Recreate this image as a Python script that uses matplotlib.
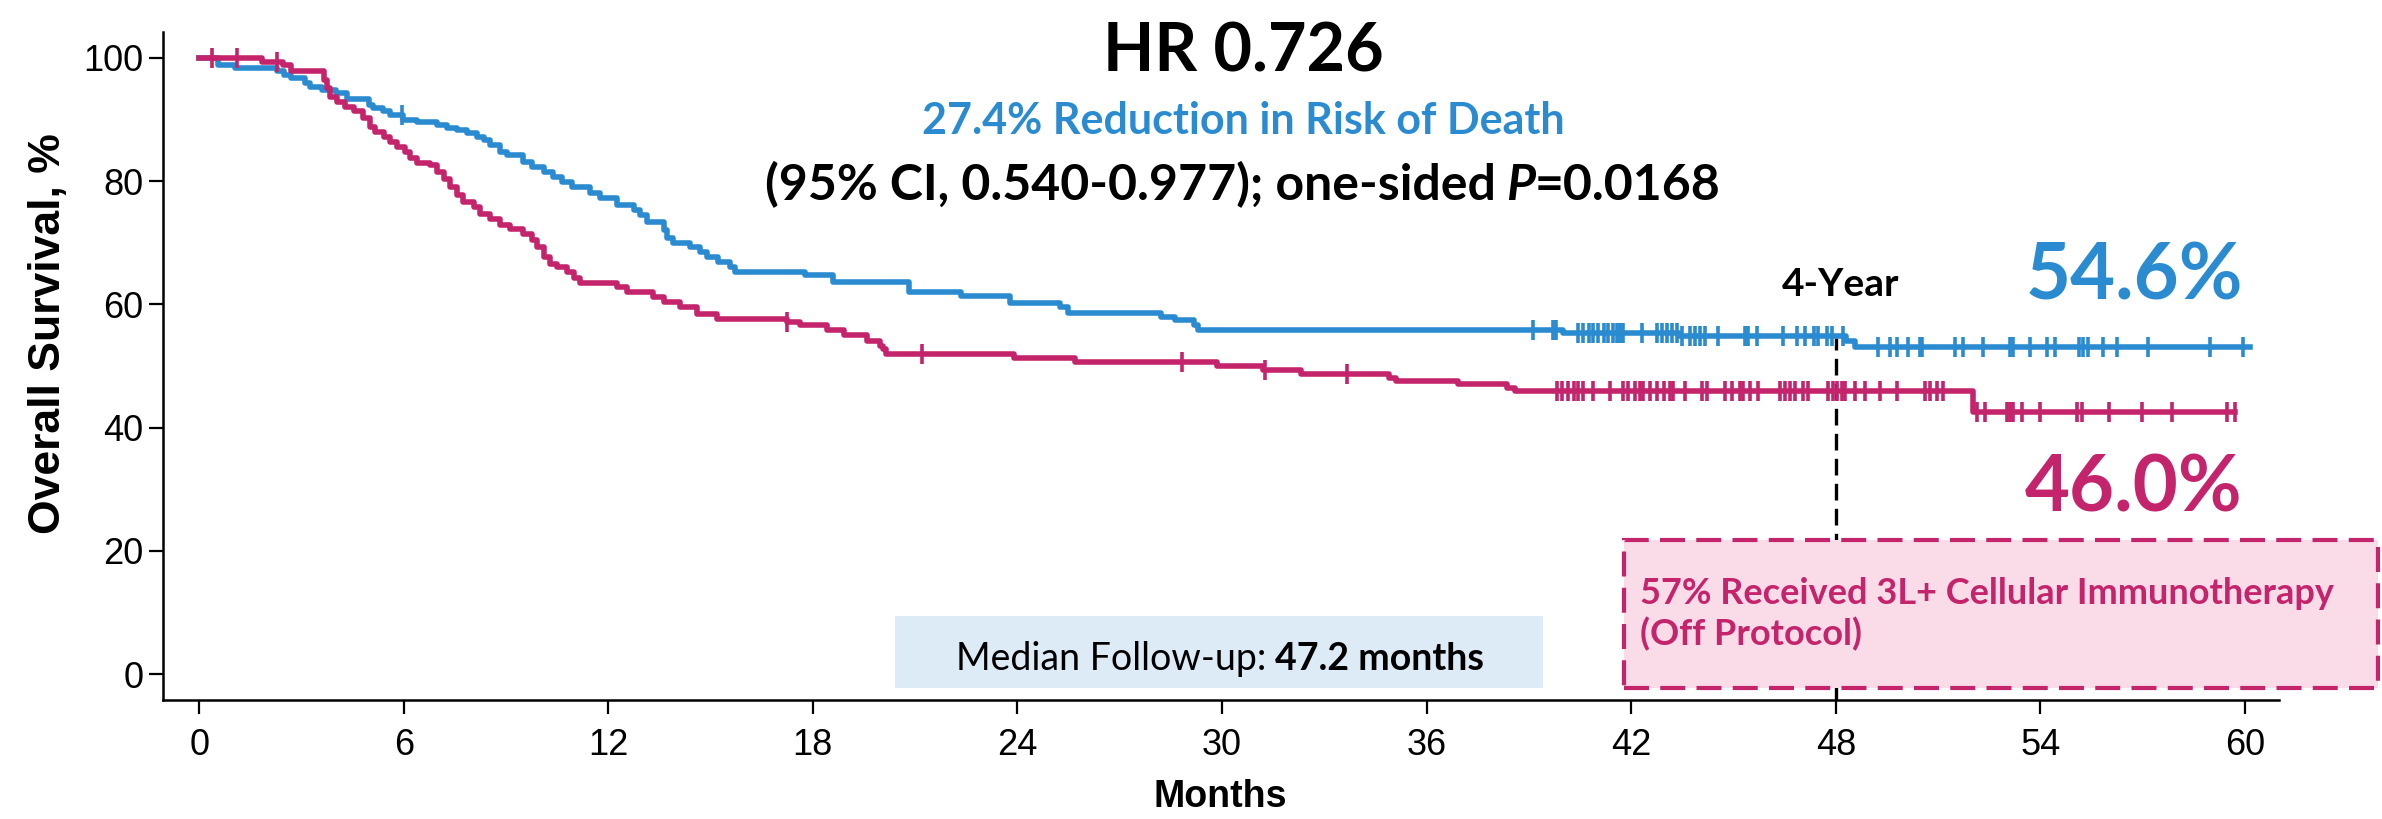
import numpy as np
import matplotlib
matplotlib.use("Agg")
import matplotlib.pyplot as plt
from matplotlib.patches import Rectangle

W, H = 2382, 819

# Kaplan-Meier steps: time (months) and survival (%) after each step
blue_t = [0, 0.55, 1.06, 2.28, 2.5, 2.7, 3.11, 3.26, 3.6, 4.0, 4.33, 4.97, 5.11, 5.4, 5.6, 5.99,
          6.38, 6.97, 7.26, 7.55, 7.85, 8.14, 8.34, 8.53, 8.83, 9.02, 9.5, 9.76, 10.1, 10.39, 10.64,
          10.93, 11.47, 11.76, 12.25, 12.74, 12.93, 13.13, 13.62, 13.71, 13.91, 14.4, 14.69, 14.89,
          15.23, 15.57, 15.72, 17.77, 18.6, 20.81, 22.33, 23.79, 25.24, 25.47, 28.22, 28.61, 29.17,
          29.3, 40.0, 43.4, 48.3, 48.55]
blue_s = [100, 98.9, 98.3, 97.8, 97.2, 96.7, 95.9, 95.3, 94.8, 94.3, 93.4, 92.4, 91.8, 91.3, 90.7, 89.9,
          89.6, 89.1, 88.6, 88.3, 87.75, 87.2, 86.7, 85.9, 84.8, 84.2, 83.1, 82.3, 81.5, 80.7, 79.9,
          79.1, 78.0, 77.2, 76.1, 75.3, 74.5, 73.4, 72.0, 70.7, 69.9, 69.3, 68.5, 67.7,
          66.9, 66.1, 65.3, 64.7, 63.6, 62.0, 61.3, 60.2, 59.5, 58.6, 57.9, 57.4, 56.6,
          55.8, 55.3, 54.8, 54.0, 53.1]
blue_end = 60.15
blue_cens = [5.94, 39.11, 39.72, 39.8, 40.43, 40.6, 40.75, 40.89, 41.04, 41.19, 41.33, 41.48, 41.58,
             41.68, 41.77, 42.31, 42.75, 42.9, 43.04, 43.19, 43.34, 43.48, 43.73, 43.87, 44.02, 44.17,
             44.56, 45.34, 45.44, 45.68, 46.46, 46.86, 47.1, 47.35, 47.49, 47.74, 47.88, 48.22, 49.25,
             49.59, 49.79, 50.13, 50.47, 50.52, 51.5, 51.74, 52.33, 53.11, 53.21, 53.7, 54.19, 54.43,
             55.12, 55.26, 55.41, 55.85, 56.24, 57.17, 58.98, 59.95]

red_t = [0, 1.84, 2.47, 2.7, 3.65, 3.75, 3.84, 4.04, 4.28, 4.53, 4.82, 5.01, 5.16, 5.41, 5.6, 5.8,
         6.04, 6.19, 6.38, 6.77, 6.97, 7.17, 7.36, 7.56, 7.75, 8.05, 8.24, 8.53, 8.83, 9.12, 9.51,
         9.76, 9.9, 10.1, 10.29, 10.49, 10.78, 10.98, 11.17, 12.25, 12.54, 13.32, 13.62, 14.1, 14.59,
         15.18, 17.23, 17.62, 18.4, 18.9, 19.58, 19.97, 20.05, 20.15, 23.9, 25.7, 29.85, 31.19, 32.32,
         34.9, 35.1, 36.92, 38.35, 38.6, 52.04]
red_s = [100, 99.4, 98.9, 97.8, 96.4, 95.1, 93.7, 92.9, 92.1, 91.3, 90.2, 88.8, 88.0, 87.2, 86.4, 85.6,
         84.8, 83.7, 82.9, 82.6, 81.5, 80.4, 79.1, 77.7, 76.6, 75.8, 74.7, 73.9, 72.8, 72.3, 71.5,
         70.4, 69.3, 67.7, 66.6, 66.1, 65.3, 64.2, 63.4, 62.8, 62.0, 61.2, 60.4, 59.6, 58.5,
         57.7, 57.1, 56.6, 55.8, 55.0, 54.1, 53.3, 52.8, 52.0, 51.3, 50.6, 50.0, 49.4, 48.7,
         48.1, 47.6, 47.0, 46.5, 46.0, 42.5]
red_end = 59.7
red_cens = [0.37, 1.1, 2.28, 17.23, 21.2, 28.84, 31.25, 33.66, 39.82, 39.96, 40.16, 40.31, 40.45,
            40.6, 40.89, 41.38, 41.77, 41.92, 42.12, 42.26, 42.36, 42.56, 42.75, 42.95, 43.14, 43.24,
            43.58, 44.07, 44.22, 44.75, 44.95, 45.19, 45.29, 45.49, 45.73, 46.37, 46.51, 46.66, 46.81,
            47.05, 47.2, 47.78, 47.93, 48.03, 48.18, 48.27, 48.57, 48.86, 49.3, 49.79, 50.62, 50.77,
            50.96, 51.16, 52.13, 52.38, 53.01, 53.11, 53.21, 53.45, 53.99, 55.07, 55.21, 56.0, 56.97,
            57.85, 59.47, 59.7]

x_ticks = [0, 6, 12, 18, 24, 30, 36, 42, 48, 54, 60]
y_ticks = [0, 20, 40, 60, 80, 100]

BLUE = "#2a8bd1"
MAGENTA = "#c4246c"
AX_FONT = ["Liberation Sans", "DejaVu Sans"]
NOTE_FONT = ["Lato", "Liberation Sans", "DejaVu Sans"]


def fx(px):
    return px / W


def fy(py):
    return 1 - py / H


def km_curve(ax, t, s, end, cens, color):
    xs = list(t) + [end]
    ys = list(s) + [s[-1]]
    ax.step(xs, ys, where="post", color=color, linewidth=4.0, zorder=3)
    idx = np.searchsorted(t, cens, side="right") - 1
    cy = np.array(s)[idx]
    ax.plot(cens, cy, linestyle="none", marker="|", markersize=15, markeredgewidth=2.6,
            color=color, zorder=3)


def mixed_text(fig, parts, xc, yb, gaps, **common):
    # pieces of one line with their own style, centred on xc, baseline at yb
    r = fig.canvas.get_renderer()
    objs, widths = [], []
    for s, kw in parts:
        t = fig.text(0, fy(yb), s, ha="left", va="baseline", **common, **kw)
        objs.append(t)
        widths.append(t.get_window_extent(r).width)
    total = sum(widths) + sum(gaps)
    x = xc - total / 2
    for i, (t, w) in enumerate(zip(objs, widths)):
        t.set_x(fx(x))
        x += w + (gaps[i] if i < len(gaps) else 0)


fig = plt.figure(figsize=(W / 100, H / 100), dpi=100)
ax = fig.add_axes([fx(163), fy(700), fx(2279) - fx(163), fy(32) - fy(700)])

km_curve(ax, blue_t, blue_s, blue_end, blue_cens, BLUE)
km_curve(ax, red_t, red_s, red_end, red_cens, MAGENTA)

ax.set_xlim(-1.06, 61.0)
ax.set_ylim(-4.2, 104.2)
ax.set_xticks(x_ticks)
ax.set_yticks(y_ticks)
ax.set_xticklabels([str(v) for v in x_ticks], family=AX_FONT, fontsize=26)
ax.set_yticklabels([str(v) for v in y_ticks], family=AX_FONT, fontsize=26)
ax.tick_params(axis="x", direction="out", length=10, width=1.6, pad=10)
ax.tick_params(axis="y", direction="out", length=10, width=1.6, pad=4)
for side in ["top", "right"]:
    ax.spines[side].set_visible(False)
for side in ["left", "bottom"]:
    ax.spines[side].set_linewidth(1.8)

fig.text(fx(1220), fy(807), "Months", ha="center", va="baseline", family=AX_FONT,
         fontsize=27, fontweight="bold")
fig.text(fx(49), fy(334), "Overall Survival, %", ha="center", va="center", rotation=90,
         family=AX_FONT, fontsize=32, fontweight="bold")

# 4-year marker and notes
ax.plot([48, 48], [-4.2, 54.6], color="black", linewidth=2.4, dashes=(5, 2.5), zorder=2)
ax.add_patch(Rectangle((41.8, -2.3), 22.1, 24.1, facecolor="#f9dce8", edgecolor=MAGENTA,
                       linewidth=3.0, linestyle=(0, (6, 2.7)), clip_on=False, zorder=4))
ax.add_patch(Rectangle((20.4, -2.3), 19.0, 11.7, facecolor="#ddebf6", edgecolor="none",
                       clip_on=False, zorder=4))

fig.text(fx(1243), fy(71), "HR 0.726", ha="center", va="baseline", family=NOTE_FONT,
         fontsize=48, fontweight="bold", color="black")
fig.text(fx(1243), fy(134), "27.4% Reduction in Risk of Death", ha="center", va="baseline",
         family=NOTE_FONT, fontsize=31, fontweight="bold", color=BLUE)
mixed_text(fig, [("(95% CI, 0.540-0.977); one-sided", {}),
                 ("P", {"style": "italic"}),
                 ("=0.0168", {})],
           1243, 200, gaps=[10, 0], family=NOTE_FONT, fontsize=36, fontweight="bold",
           color="black")

fig.text(fx(1841), fy(296), "4-Year", ha="center", va="baseline", family=NOTE_FONT,
         fontsize=28, fontweight="bold", color="black")
fig.text(fx(2134), fy(299), "54.6%", ha="center", va="baseline", family=NOTE_FONT,
         fontsize=56, fontweight="bold", color=BLUE)
fig.text(fx(2134), fy(511), "46.0%", ha="center", va="baseline", family=NOTE_FONT,
         fontsize=56, fontweight="bold", color=MAGENTA)

fig.text(fx(1640), fy(604), "57% Received 3L+ Cellular Immunotherapy", ha="left",
         va="baseline", family=NOTE_FONT, fontsize=26, fontweight="bold", color=MAGENTA, zorder=5)
fig.text(fx(1640), fy(645), "(Off Protocol)", ha="left", va="baseline", family=NOTE_FONT,
         fontsize=26, fontweight="bold", color=MAGENTA, zorder=5)
mixed_text(fig, [("Median Follow-up:", {"fontweight": "normal"}),
                 ("47.2 months", {"fontweight": "bold"})],
           1220, 670, gaps=[8], family=NOTE_FONT, fontsize=27, color="black")

fig.savefig("out.png", dpi=100)
